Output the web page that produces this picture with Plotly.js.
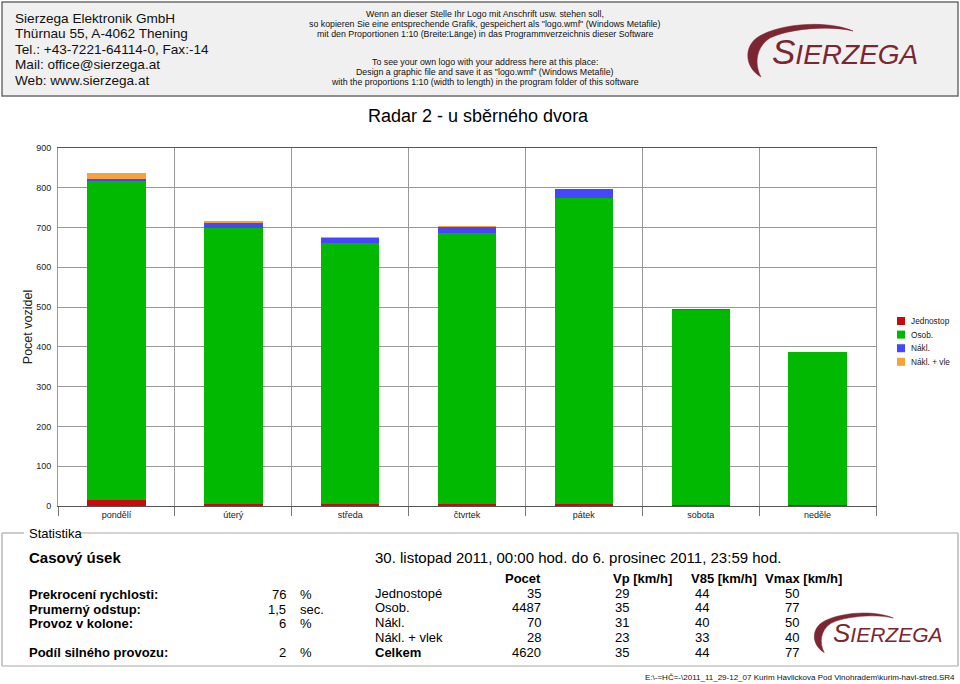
<!DOCTYPE html>
<html>
<head>
<meta charset="utf-8">
<script src="https://cdn.plot.ly/plotly-3.0.1.min.js"></script>
<style>
  html, body { margin: 0; padding: 0; background: #ffffff; }
  #chart { width: 960px; height: 684px; }
</style>
</head>
<body>
<div id="chart"></div>
<script>
// ---------------- data ----------------
const days = ['pondělí', 'úterý', 'středa', 'čtvrtek', 'pátek', 'sobota', 'neděle'];
const seriesNames = ['Jednostop', 'Osob.', 'Nákl.', 'Nákl. + vle'];
const jednostop = [14, 4, 4, 4, 4, 3, 2];
const osob = [802, 695, 658, 683, 770, 490, 384];
const nakl = [5, 12, 12, 15, 23, 3, 0];
const naklVlek = [15, 6, 2, 3, 1, 0, 1];
const yTicks = [0, 100, 200, 300, 400, 500, 600, 700, 800, 900];

const headerLeft = ['Sierzega Elektronik GmbH', 'Thürnau 55, A-4062 Thening', 'Tel.: +43-7221-64114-0, Fax:-14', 'Mail: office@sierzega.at', 'Web: www.sierzega.at'];
const headerMid1 = ['Wenn an dieser Stelle Ihr Logo mit Anschrift usw. stehen soll,', 'so kopieren Sie eine entsprechende Grafik, gespeichert als "logo.wmf" (Windows Metafile)', 'mit den Proportionen 1:10 (Breite:Länge) in das Programmverzeichnis dieser Software'];
const headerMid2 = ['To see your own logo with your address here at this place:', 'Design a graphic file and save it as "logo.wmf" (Windows Metafile)', 'with the proportions 1:10 (width to length) in the program folder of this software'];

const statLabels = ['Prekrocení rychlosti:', 'Prumerný odstup:', 'Provoz v kolone:', 'Podíl silného provozu:'];
const statValues = ['76', '1,5', '6', '2'];
const statUnits = ['%', 'sec.', '%', '%'];

const tableHeaders = ['Pocet', 'Vp [km/h]', 'V85 [km/h]', 'Vmax [km/h]'];
const classNames = ['Jednostopé', 'Osob.', 'Nákl.', 'Nákl. + vlek', 'Celkem'];
const classCount = [35, 4487, 70, 28, 4620];
const classVp = [29, 35, 31, 23, 35];
const classV85 = [44, 44, 40, 33, 44];
const classVmax = [50, 77, 50, 40, 77];

const periodText = '30. listopad 2011, 00:00 hod. do 6. prosinec 2011, 23:59 hod.';
const footerText = 'E:\\-=HČ=-\\2011_11_29-12_07 Kurim Havlickova Pod Vinohradem\\kurim-havl-stred.SR4';

// ---------------- layout helpers ----------------
const W = 960, H = 684, ML = 58, MR = 84, MT = 148, MB = 178;
const PW = W - ML - MR, PH = H - MT - MB;
const X = p => (p - ML) / PW;
const Y = p => (H - MB - p) / PH;
const FONT = 'Arial, "Liberation Sans", sans-serif';
const colors = ['#c80a0a', '#00b900', '#4646ff', '#f5a23c'];
const logoColor = '#7b2630';

const annotations = [];
const shapes = [];
function txt(x, y, text, size, o) {
  o = o || {};
  annotations.push({
    xref: 'paper', yref: 'paper', x: X(x), y: Y(y), text: text, showarrow: false,
    xanchor: o.xa || 'left', yanchor: o.ya || 'middle', align: o.align || 'left',
    textangle: o.angle || 0,
    font: { family: FONT, size: size, color: o.color || '#000000' }
  });
}
function line(x0, y0, x1, y1, color, w) {
  shapes.push({ type: 'line', xref: 'paper', yref: 'paper', x0: X(x0), y0: Y(y0), x1: X(x1), y1: Y(y1),
    line: { color: color, width: w || 1 } });
}
function rect(x0, y0, x1, y1, fill, lc, w) {
  shapes.push({ type: 'rect', xref: 'paper', yref: 'paper', x0: X(x0), y0: Y(y0), x1: X(x1), y1: Y(y1),
    fillcolor: fill, line: { color: lc || fill, width: w === undefined ? 1 : w } });
}
function pathPx(d, ox, oy, s) {
  return d.replace(/(-?\d+\.?\d*),(-?\d+\.?\d*)/g, (m, a, b) => {
    const px = ox + (parseFloat(a) - 770) * s;
    const py = oy + (parseFloat(b) - 63) * s;
    return X(px).toFixed(5) + ',' + Y(py).toFixed(5);
  });
}
function logo(ox, oy, s) {
  const d = 'M761,77 C745,68 743,47 758,37 C780,23 828,20 853,31 C828,25 788,29 770,38 C756,47 754,64 761,77 Z';
  shapes.push({ type: 'path', xref: 'paper', yref: 'paper', path: pathPx(d, ox, oy, s),
    fillcolor: logoColor, line: { color: logoColor, width: 0.5 } });
  const big = Math.round(35 * s), small = Math.round(27.5 * s);
  annotations.push({
    xref: 'paper', yref: 'paper', x: X(ox), y: Y(oy - 12 * s), showarrow: false,
    xanchor: 'left', yanchor: 'middle',
    text: '<i><span style="font-size:' + big + 'px">S</span>IERZEGA</i>',
    font: { family: FONT, size: small, color: logoColor }
  });
}

// ---------------- header ----------------
rect(2, 2, 958, 96, '#f0f0f0', '#6e6e6e', 1.5);
headerLeft.forEach((t, i) => txt(13, 18 + i * 15.5, t, 13.6, { color: '#111' }));
headerMid1.forEach((t, i) => txt(485, 14 + i * 9.8, t, 8.8, { xa: 'center', color: '#111' }));
headerMid2.forEach((t, i) => txt(485, 62 + i * 9.8, t, 8.8, { xa: 'center', color: '#111' }));
logo(770, 63, 1);

// ---------------- chart title ----------------
txt(479, 116, 'Radar 2 - u sběrného dvora', 18, { xa: 'center' });

// ---------------- custom legend ----------------
seriesNames.forEach((n, i) => {
  const cy = 321 + i * 13.6;
  rect(897, cy - 4, 905, cy + 4, colors[i], colors[i], 0);
  txt(909, cy, n, 8.3, { color: '#222' });
});

// ---------------- statistics box ----------------
const boxC = '#a8a8a8';
line(2, 533, 24, 533, boxC, 1.2);
line(80, 533, 958, 533, boxC, 1.2);
line(2, 533, 2, 666, boxC, 1.2);
line(2, 666, 958, 666, boxC, 1.2);
line(958, 533, 958, 666, boxC, 1.2);
txt(27, 533, 'Statistika', 13);
txt(27, 557, '<b>Casový úsek</b>', 15);
txt(373, 557, periodText, 15);

const statY = [594, 609, 623, 652];
statLabels.forEach((l, i) => {
  txt(27, statY[i], '<b>' + l + '</b>', 13);
  txt(288, statY[i], statValues[i], 13, { xa: 'right' });
  txt(298, statY[i], statUnits[i], 13);
});

txt(543, 578, '<b>' + tableHeaders[0] + '</b>', 13, { xa: 'right' });
txt(611, 578, '<b>' + tableHeaders[1] + '</b>', 13);
txt(689, 578, '<b>' + tableHeaders[2] + '</b>', 13);
txt(763, 578, '<b>' + tableHeaders[3] + '</b>', 13);
classNames.forEach((n, i) => {
  const y = 593 + i * 14.8;
  const b = i === classNames.length - 1;
  txt(373, y, b ? '<b>' + n + '</b>' : n, 13);
  txt(543, y, String(classCount[i]), 13, { xa: 'right' });
  txt(613, y, String(classVp[i]), 13);
  txt(693, y, String(classV85[i]), 13);
  txt(783, y, String(classVmax[i]), 13);
});
logo(831, 642, 0.75);

txt(957, 677, footerText, 8, { xa: 'right', color: '#111' });

// ---------------- bar traces ----------------
const series = [jednostop, osob, nakl, naklVlek];
const traces = series.map((vals, i) => ({
  type: 'bar', x: days, y: vals, name: seriesNames[i],
  marker: { color: colors[i], line: { width: 0 } },
  width: 0.5, showlegend: false, hoverinfo: 'x+y+name'
}));

const layout = {
  width: W, height: H,
  margin: { l: ML, r: MR, t: MT, b: MB, pad: 0 },
  paper_bgcolor: '#ffffff', plot_bgcolor: '#ffffff',
  barmode: 'stack', bargap: 0.5,
  showlegend: false,
  font: { family: FONT, size: 9, color: '#222' },
  xaxis: {
    type: 'category', categoryorder: 'array', categoryarray: days,
    tickson: 'boundaries', ticks: 'outside', ticklen: 9, tickcolor: '#777',
    showgrid: true, gridcolor: '#999999', gridwidth: 1,
    showline: true, linecolor: '#555555', linewidth: 1, mirror: true,
    tickfont: { family: FONT, size: 9, color: '#222' },
    fixedrange: true, automargin: false
  },
  yaxis: {
    range: [0, 900], tickvals: yTicks, ticktext: yTicks.map(String),
    showgrid: true, gridcolor: '#999999', gridwidth: 1,
    showline: true, linecolor: '#999999', linewidth: 1, mirror: true,
    zeroline: false, ticks: '', ticklabelstandoff: 4,
    tickfont: { family: FONT, size: 9, color: '#222' },
    title: { text: 'Pocet vozidel', font: { family: FONT, size: 12.5, color: '#222' }, standoff: 0 },
    fixedrange: true, automargin: false
  },
  annotations: annotations,
  shapes: shapes
};

Plotly.newPlot('chart', traces, layout, { displayModeBar: false, staticPlot: true });
</script>
</body>
</html>
